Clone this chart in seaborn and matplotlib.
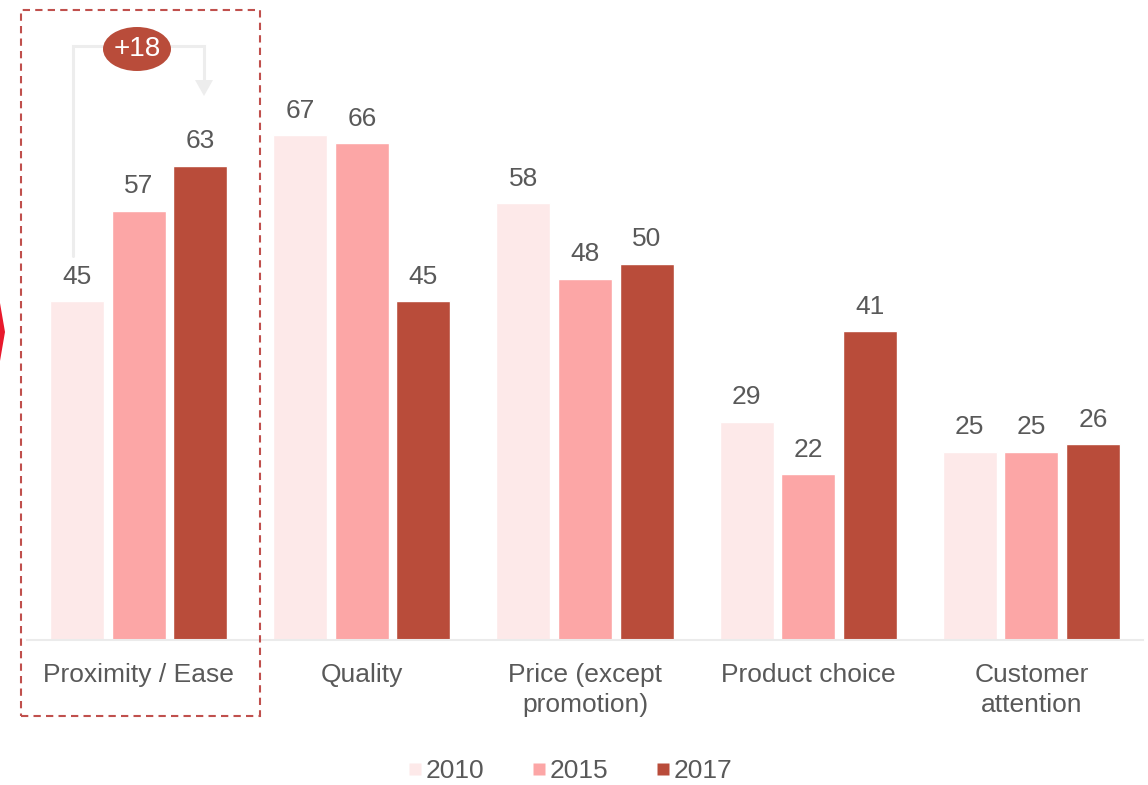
import matplotlib
matplotlib.use("Agg")
import matplotlib.pyplot as plt
import seaborn as sns
import pandas as pd
from matplotlib.patches import Rectangle, Ellipse, Polygon
from matplotlib.lines import Line2D

categories = ["Proximity / Ease", "Quality", "Price (except\npromotion)", "Product choice", "Customer\nattention"]
years = ["2010", "2015", "2017"]
values_2010 = [45, 67, 58, 29, 25]
values_2015 = [57, 66, 48, 22, 25]
values_2017 = [63, 45, 50, 41, 26]
colors = ["#FDE9E9", "#FCA6A6", "#B94C3A"]
change_label = "+18"

sns.set_theme(style="white")
plt.rcParams["font.family"] = ["Liberation Sans", "DejaVu Sans"]
TXT = "#595959"
FS = 19

rows = []
for yr, vals in zip(years, [values_2010, values_2015, values_2017]):
    for c, v in zip(categories, vals):
        rows.append({"category": c, "year": yr, "value": v})
df = pd.DataFrame(rows)

W, H = 1148, 785
fig = plt.figure(figsize=(W / 100, H / 100), dpi=100)
ax = fig.add_axes([27 / W, 145 / H, (1143 - 27) / W, 640 / H])

sns.barplot(data=df, x="category", y="value", hue="year", order=categories,
            hue_order=years, palette=colors, width=0.828, gap=0.123,
            saturation=1, ax=ax, legend=False, errorbar=None)

ax.set_ylim(0, 640 / 7.53)
ax.set_xlim(-0.5, len(categories) - 0.5)
for s in ["top", "right", "left"]:
    ax.spines[s].set_visible(False)
ax.spines["bottom"].set_color("#EBEBEB")
ax.spines["bottom"].set_linewidth(1.5)
ax.set_yticks([])
ax.set_xlabel("")
ax.set_ylabel("")
ax.tick_params(axis="x", length=0, pad=16.5, labelsize=FS, labelcolor=TXT)
for lab in ax.get_xticklabels():
    lab.set_linespacing(1.32)

for cont in ax.containers:
    ax.bar_label(cont, fmt="%d", padding=9, fontsize=FS, color=TXT)

def px(x, y):
    return (x / W, 1 - y / H)

# dashed highlight box
x0, y0 = px(21, 716)
x1, y1 = px(260, 10)
fig.patches.append(Rectangle((x0, y0), x1 - x0, y1 - y0, transform=fig.transFigure,
                             fill=False, edgecolor="#C0504D", linewidth=1.5,
                             linestyle=(0, (3.5, 2.5)), zorder=1))

# bracket arrow
bx = [73, 73, 204, 204]
by = [256, 46, 46, 82]
pts = [px(a, b) for a, b in zip(bx, by)]
fig.lines.append(Line2D([p[0] for p in pts], [p[1] for p in pts], transform=fig.transFigure,
                        color="#EDEDED", linewidth=2.2, solid_joinstyle="miter", zorder=2))
fig.patches.append(Polygon([px(195, 80), px(213, 80), px(204, 96)], closed=True,
                           transform=fig.transFigure, facecolor="#EDEDED", edgecolor="none",
                           zorder=2))
cx, cy = px(137, 49)
fig.patches.append(Ellipse((cx, cy), 68 / W, 44 / H, transform=fig.transFigure,
                           facecolor="#B94C3A", edgecolor="none", zorder=5))
fig.text(cx, cy, change_label, color="white", fontsize=FS + 1, ha="center", va="center",
         zorder=6)

# left edge red marker
fig.patches.append(Polygon([px(0, 303), px(5, 332), px(0, 361)], closed=True,
                           transform=fig.transFigure, facecolor="#E8192C", edgecolor="none"))

# legend
handles = [Line2D([], [], marker="s", linestyle="none", markersize=9,
                  markerfacecolor=c, markeredgecolor="none") for c in colors]
fig.legend(handles, years, loc="center", bbox_to_anchor=(569 / W, 1 - 771 / H), ncol=3,
           frameon=False, fontsize=FS, labelcolor=TXT, handletextpad=0.05,
           columnspacing=1.72, handlelength=0.7)

fig.savefig("out.png", dpi=100)
